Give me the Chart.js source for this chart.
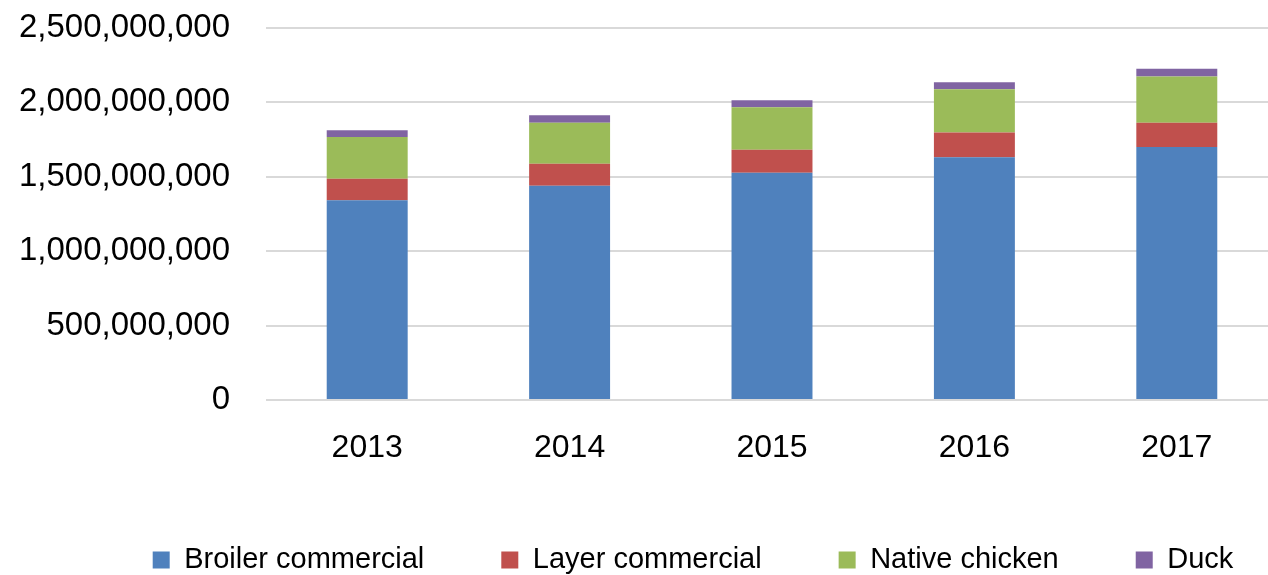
<!DOCTYPE html>
<html>
<head>
<meta charset="utf-8">
<script src="https://cdn.jsdelivr.net/npm/chart.js@4"></script>
<style>
  html, body { margin: 0; padding: 0; overflow: hidden; background: #fff; }
  #wrap { width: 1376px; height: 575px; }
</style>
</head>
<body>
<div id="wrap"><canvas id="poultryChart" width="1376" height="575"></canvas></div>
<script>
const years = ['2013', '2014', '2015', '2016', '2017'];
const broiler = [1343000000, 1440000000, 1527000000, 1631000000, 1700000000];
const layer = [144000000, 148000000, 155000000, 166000000, 164000000];
const native = [280000000, 276000000, 285000000, 292000000, 310000000];
const duck = [45000000, 50000000, 48000000, 47000000, 52000000];
const yTicks = [0, 500000000, 1000000000, 1500000000, 2000000000, 2500000000];

const font = 'Liberation Sans';

function makeSet(label, data, color) {
    return {
        label: label,
        data: data,
        backgroundColor: color,
        borderWidth: 0,
        barPercentage: 0.4,
        categoryPercentage: 1
    };
}

const ctx = document.getElementById('poultryChart').getContext('2d');

new Chart(ctx, {
    type: 'bar',
    data: {
        labels: years,
        datasets: [
            makeSet('Broiler commercial', broiler, '#4F81BD'),
            makeSet('Layer commercial', layer, '#C0504D'),
            makeSet('Native chicken', native, '#9BBB59'),
            makeSet('Duck', duck, '#8064A2')
        ]
    },
    options: {
        responsive: false,
        animation: false,
        layout: {
            // wide canvas + hidden right axis so the legend centres like the original
            padding: { left: 10, right: 0, top: 28, bottom: -9.5 }
        },
        plugins: {
            tooltip: { enabled: false },
            legend: {
                position: 'bottom',
                labels: {
                    boxWidth: 17,
                    boxHeight: 17,
                    padding: 77,
                    color: '#000',
                    font: { family: font, size: 29 }
                }
            }
        },
        scales: {
            x: {
                stacked: true,
                grid: { display: false },
                border: { display: false },
                ticks: {
                    color: '#000',
                    padding: 21,
                    font: { family: font, size: 32 }
                },
                afterFit: s => { s.height = 68.5; }
            },
            y: {
                stacked: true,
                min: 0,
                max: 2500000000,
                grid: { color: '#D9D9D9', lineWidth: 2, tickLength: 33, tickColor: 'rgba(0,0,0,0)' },
                border: { display: false },
                afterBuildTicks: s => { s.ticks = yTicks.map(v => ({ value: v })); },
                ticks: {
                    color: '#000',
                    padding: 3,
                    font: { family: font, size: 33 },
                    callback: v => v.toLocaleString('en-US')
                },
                afterFit: s => { s.width = 256; }
            },
            y2: {
                position: 'right',
                grid: { display: false },
                border: { display: false },
                ticks: { display: false },
                afterFit: s => { s.width = 98; }
            }
        }
    }
});
</script>
</body>
</html>
